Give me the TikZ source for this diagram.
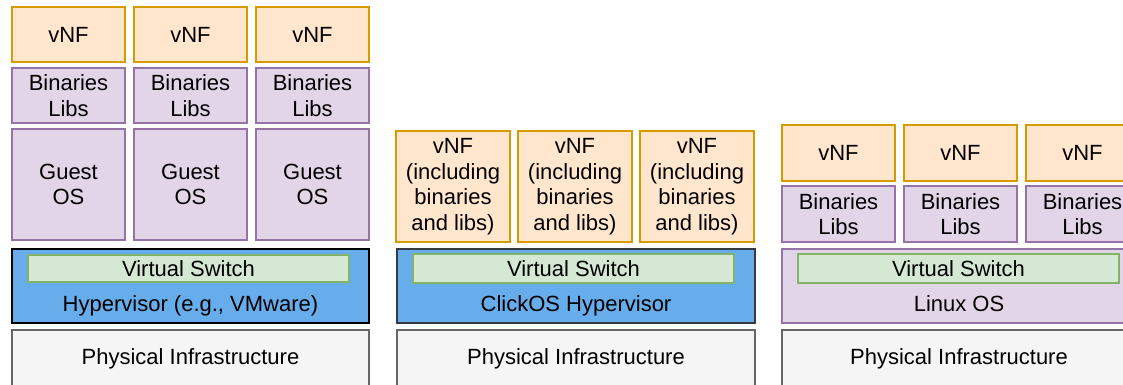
\documentclass[tikz,border=0pt]{standalone}
\usepackage{fontspec}
\setmainfont{Liberation Sans}
\definecolor{vnfF}{HTML}{FFE6CC}
\definecolor{vnfD}{HTML}{D79B00}
\definecolor{purF}{HTML}{E1D5E7}
\definecolor{purD}{HTML}{9673A6}
\definecolor{bluF}{HTML}{67ADEB}
\definecolor{swF}{HTML}{D5E8D4}
\definecolor{swD}{HTML}{82B366}
\definecolor{phF}{HTML}{F5F5F5}
\definecolor{phD}{HTML}{666666}
\definecolor{darkD}{HTML}{36393D}
\newcommand{\bx}[7]{\node[#2, minimum width={(#5-#3)*1pt}, minimum height={(#6-#4)*1pt}] (#1) at ({(#3+#5)/2},{(#4+#6)/2}) {#7};}
\begin{document}
\begin{tikzpicture}[x=1pt,y=-1pt,
  base/.style={draw, line width=1.3pt, inner sep=0pt, outer sep=0pt, align=center, font=\fontsize{22}{25.5}\selectfont},
  vnf/.style={base, fill=vnfF, draw=vnfD},
  pur/.style={base, fill=purF, draw=purD},
  hypA/.style={base, fill=bluF, draw=black, line width=2pt},
  hypB/.style={base, fill=bluF, draw=darkD, line width=1.5pt},
  sw/.style={base, fill=swF, draw=swD},
  phys/.style={base, fill=phF, draw=phD},
  lbl/.style={inner sep=0pt, anchor=base, font=\fontsize{22}{25.5}\selectfont}]
\useasboundingbox (0,0) rectangle (1123,384);
\clip (0,0) rectangle (1123,384);
% Panel 1
\bx{av1}{vnf}{12}{7}{125}{62}{vNF}
\bx{av2}{vnf}{134}{7}{247}{62}{vNF}
\bx{av3}{vnf}{256}{7}{369}{62}{vNF}
\bx{ab1}{pur}{12}{68}{125}{123}{Binaries\\Libs}
\bx{ab2}{pur}{134}{68}{247}{123}{Binaries\\Libs}
\bx{ab3}{pur}{256}{68}{369}{123}{Binaries\\Libs}
\bx{ag1}{pur}{12}{129}{125}{240}{Guest\\OS}
\bx{ag2}{pur}{134}{129}{247}{240}{Guest\\OS}
\bx{ag3}{pur}{256}{129}{369}{240}{Guest\\OS}
\bx{ah}{hypA}{12}{249}{369}{323}{}
\bx{as}{sw}{28}{255}{349}{282}{Virtual Switch}
\node[lbl] (ahl) at (190.5,311.5) {Hypervisor (e.g., VMware)};
\bx{ap}{phys}{12}{330}{369}{400}{}
\node[lbl] (apl) at (190.5,364.5) {Physical Infrastructure};
% Panel 2
\bx{bv1}{vnf}{396}{131}{510}{242}{vNF\\(including\\binaries\\and libs)}
\bx{bv2}{vnf}{518}{131}{632}{242}{vNF\\(including\\binaries\\and libs)}
\bx{bv3}{vnf}{640}{131}{754}{242}{vNF\\(including\\binaries\\and libs)}
\bx{bh}{hypB}{397}{249}{755}{323}{}
\bx{bs}{sw}{413}{254}{734}{283}{Virtual Switch}
\node[lbl] (bhl) at (576,311.5) {ClickOS Hypervisor};
\bx{bp}{phys}{397}{330}{755}{400}{}
\node[lbl] (bpl) at (576,364.5) {Physical Infrastructure};
% Panel 3
\bx{cv1}{vnf}{782}{125}{895}{181}{vNF}
\bx{cv2}{vnf}{904}{125}{1017}{181}{vNF}
\bx{cv3}{vnf}{1026}{125}{1139}{181}{vNF}
\bx{cb1}{pur}{782}{186}{895}{242}{Binaries\\Libs}
\bx{cb2}{pur}{904}{186}{1017}{242}{Binaries\\Libs}
\bx{cb3}{pur}{1026}{186}{1139}{242}{Binaries\\Libs}
\bx{ch}{pur}{782}{249}{1140}{323}{}
\bx{cs}{sw}{798}{254}{1119}{283}{Virtual Switch}
\node[lbl] (chl) at (959,311.5) {Linux OS};
\bx{cp}{phys}{782}{330}{1140}{400}{}
\node[lbl] (cpl) at (959,364.5) {Physical Infrastructure};
\end{tikzpicture}
\end{document}
